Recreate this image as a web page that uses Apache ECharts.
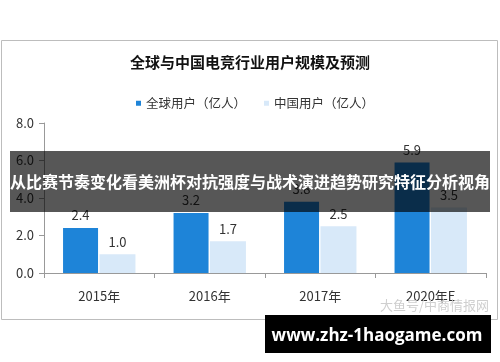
<!DOCTYPE html>
<html><head><meta charset="utf-8">
<script src="https://cdn.jsdelivr.net/npm/echarts@6/dist/echarts.min.js"></script>
<style>html,body{margin:0;padding:0;background:#fff}#c{width:500px;height:362px}</style>
</head><body><div id="c"></div>
<script>
const categories = ['2015年', '2016年', '2017年', '2020年E'];
const globalUsers = [2.4, 3.2, 3.8, 5.9];
const chinaUsers = [1.0, 1.7, 2.5, 3.5];
const seriesNames = ['全球用户（亿人）', '中国用户（亿人）'];
const titleText = '全球与中国电竞行业用户规模及预测';
const bannerText = '从比赛节奏变化看美洲杯对抗强度与战术演进趋势研究特征分析视角';
const footerText = 'www.zhz-1haogame.com';
const sourceText = '大鱼号/中商情报网';

const FONT = '"Noto Sans CJK SC", "Noto Sans", sans-serif';
const chart = echarts.init(document.getElementById('c'), null, {renderer: 'canvas'});
const labelStyle = {show: true, position: 'top', color: '#333', fontSize: 13, fontFamily: FONT, distance: 6,
  formatter: p => p.value.toFixed(1)};
chart.setOption({
  animation: false,
  title: {text: titleText, left: 'center', top: 50, textStyle: {fontSize: 15, fontWeight: 'bold', color: '#111', fontFamily: FONT}},
  legend: {top: 92, left: 131, itemWidth: 5, itemHeight: 5, itemGap: 18, icon: 'rect',
    textStyle: {fontSize: 12.5, color: '#333', fontFamily: FONT, padding: [4, 0, 0, 0]}},
  grid: {left: 44, right: 14, top: 123, bottom: 89},
  xAxis: {type: 'category', data: categories,
    axisLine: {lineStyle: {color: '#999'}},
    axisTick: {show: true, length: 5, lineStyle: {color: '#999'}},
    axisLabel: {color: '#333', fontSize: 13, fontFamily: FONT, margin: 17}},
  yAxis: {type: 'value', min: 0, max: 8, interval: 2,
    axisLine: {show: true, lineStyle: {color: '#999'}},
    axisTick: {show: true, length: 5, lineStyle: {color: '#999'}},
    splitLine: {show: false},
    axisLabel: {color: '#333', fontSize: 13, fontFamily: FONT, margin: 10, formatter: v => v.toFixed(1)}},
  series: [
    {name: seriesNames[0], type: 'bar', data: globalUsers, barWidth: 35, barGap: '4%',
      itemStyle: {color: '#1E84D8'}, label: labelStyle},
    {name: seriesNames[1], type: 'bar', data: chinaUsers, barWidth: 36,
      itemStyle: {color: '#D8E9F9'}, label: labelStyle}
  ],
  graphic: [
    {type: 'rect', z: -10, shape: {x: 1.5, y: 40.5, width: 496, height: 279}, style: {fill: 'none', stroke: '#bdbdbd', lineWidth: 1}},
    {type: 'text', z: 50, left: 380, top: 299, style: {text: sourceText, fill: '#cfcfcf', fontSize: 13, fontFamily: FONT}},
    {type: 'rect', z: 100, shape: {x: 10, y: 151, width: 480, height: 61}, style: {fill: 'rgba(0,0,0,0.66)'}},
    {type: 'text', z: 101, x: 250, y: 182, style: {text: bannerText, fill: '#fff', fontSize: 16, fontWeight: 'bold',
      fontFamily: FONT, align: 'center', verticalAlign: 'middle'}},
    {type: 'rect', z: 100, shape: {x: 265, y: 315, width: 226, height: 38}, style: {fill: '#000'}},
    {type: 'text', z: 101, x: 377, y: 336, style: {text: footerText, fill: '#fff', fontSize: 17, fontWeight: 'bold',
      fontFamily: '"Open Sans", "DejaVu Sans", sans-serif', align: 'center', verticalAlign: 'middle'}}
  ]
});
</script></body></html>
